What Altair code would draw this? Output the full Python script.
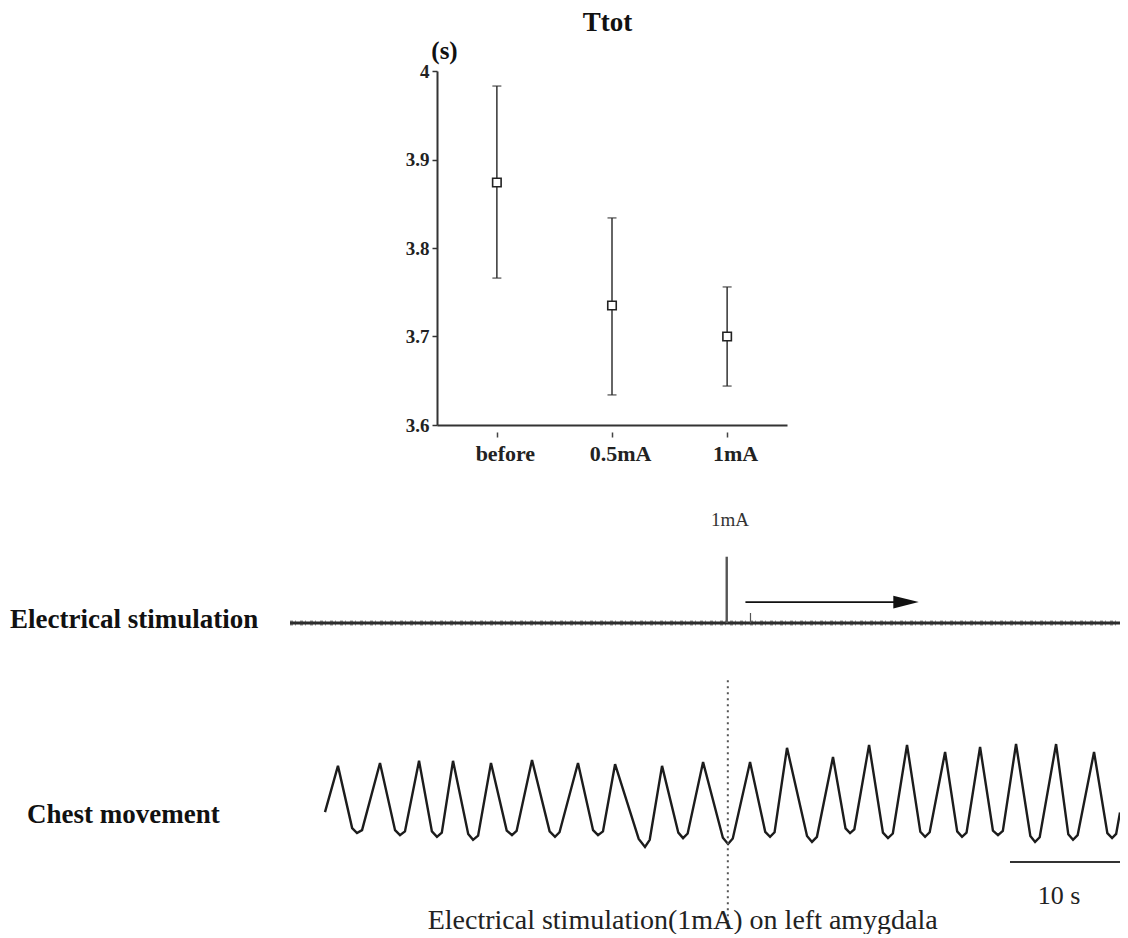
import altair as alt
import pandas as pd

SERIF = "Liberation Serif"

# ---------------- top panel: Ttot (s) ----------------
conditions = ["before", "0.5mA", "1mA"]
ttot_mean = [3.874, 3.735, 3.700]
ttot_upper = [3.983, 3.834, 3.756]
ttot_lower = [3.766, 3.634, 3.644]
ttot_ticks = [3.6, 3.7, 3.8, 3.9, 4.0]

# ---------------- bottom panel: recordings ----------------
# time in seconds, amplitude in arbitrary units
chest_t = [3.18, 4.36,
           5.65, 6.09, 6.55, 8.18,
           9.55, 10.0, 10.45, 11.73,
           12.9, 13.36, 13.8, 14.82,
           16.2, 16.64, 17.1, 18.27,
           19.7, 20.18, 20.6, 22.0,
           23.6, 24.09, 24.5, 26.18,
           27.55, 28.0, 28.45, 29.55,
           31.7, 32.27, 32.7, 33.82,
           35.3, 35.73, 36.15, 37.55,
           39.35, 39.82, 40.25, 41.82,
           43.2, 43.64, 44.05, 45.18,
           47.0, 47.45, 47.9, 49.36,
           50.5, 50.91, 51.3, 52.64,
           53.9, 54.36, 54.8, 56.09,
           57.3, 57.73, 58.15, 59.55,
           60.65, 61.09, 61.5, 62.73,
           63.9, 64.36, 64.8, 66.0,
           67.3, 67.73, 68.15, 69.64,
           70.75, 71.18, 71.6, 73.09,
           74.3, 74.73, 75.1, 75.45]
chest_v = [2.76, 3.86,
           2.38, 2.26, 2.33, 3.93,
           2.33, 2.21, 2.30, 3.98,
           2.30, 2.17, 2.27, 3.98,
           2.24, 2.10, 2.20, 3.93,
           2.32, 2.21, 2.31, 4.00,
           2.30, 2.17, 2.28, 3.93,
           2.33, 2.21, 2.30, 3.90,
           2.12, 1.93, 2.10, 3.86,
           2.27, 2.14, 2.25, 3.95,
           2.15, 2.00, 2.13, 3.95,
           2.29, 2.17, 2.28, 4.29,
           2.19, 2.05, 2.17, 4.07,
           2.37, 2.26, 2.35, 4.36,
           2.27, 2.14, 2.25, 4.36,
           2.29, 2.17, 2.28, 4.19,
           2.30, 2.17, 2.27, 4.31,
           2.32, 2.21, 2.31, 4.38,
           2.19, 2.05, 2.16, 4.38,
           2.23, 2.10, 2.21, 4.19,
           2.26, 2.14, 2.24, 2.75]

stim_t = [0.0, 75.45]
stim_v = [7.26, 7.26]
pulse_t = [39.7, 41.86]
pulse_top = [8.84, 7.50]
pulse_width = [2.4, 1.2]
stim_onset_t = 39.8
arrow_t = [41.4, 56.0]
arrow_v = 7.76
scalebar_t = [65.45, 75.45]   # 10 s
scalebar_v = 1.57
T_RANGE = [0, 75.45]
V_RANGE = [0, 10]

W, H = 1112, 926

cond_df = pd.DataFrame({"cond": conditions, "mean": ttot_mean,
                        "lo": ttot_lower, "hi": ttot_upper})

x_axis = alt.Axis(orient="bottom", offset=-(H - 417), title="Ttot", titleX=599, titleY=-403,
                  titleAlign="center", titleBaseline="middle", titleFont=SERIF,
                  titleFontSize=27, titleFontWeight="bold", titleColor="#111",
                  domainColor="#333", domainWidth=2, tickColor="#444", tickSize=12,
                  tickWidth=1.5, tickDash=[0, 7, 5, 40], labelFont=SERIF, labelFontSize=22,
                  labelFontWeight="bold", labelColor="#222", labelPadding=6, labelOffset=8,
                  labelAngle=0, grid=False)
y_axis = alt.Axis(orient="left", offset=-429, values=ttot_ticks, format=".2~g", grid=False,
                  domainColor="#333", domainWidth=2, tickColor="#333", tickSize=5, tickWidth=1.5,
                  labelFont=SERIF, labelFontWeight="bold", labelFontSize=19, labelColor="#222",
                  labelPadding=3, title="(s)", titleAngle=0, titleX=7, titleY=42,
                  titleAlign="center", titleBaseline="middle", titleFont=SERIF,
                  titleFontSize=25, titleFontWeight="bold", titleColor="#111")


def tx():
    return alt.X("cond:N", sort=conditions,
                 scale=alt.Scale(type="point", range=[429, 779], padding=0.52), axis=x_axis)


def ty(field):
    return alt.Y(f"{field}:Q", scale=alt.Scale(domain=[3.6, 4.0], range=[417, 63], nice=False,
                                                zero=False), axis=y_axis)


base_top = alt.Chart(cond_df)
bars = base_top.mark_rule(color="#333", strokeWidth=1.5).encode(x=tx(), y=ty("lo"), y2="hi:Q")
cap_lo = base_top.mark_tick(color="#333", size=9, thickness=1.5, orient="horizontal").encode(x=tx(), y=ty("lo"))
cap_hi = base_top.mark_tick(color="#333", size=9, thickness=1.5, orient="horizontal").encode(x=tx(), y=ty("hi"))
pts = base_top.mark_square(size=72, filled=True, fill="white", stroke="#222", strokeWidth=1.6,
                           opacity=1).encode(x=tx(), y=ty("mean"))
top = alt.layer(bars, cap_lo, cap_hi, pts)


# ---------------- bottom ----------------
def bx(field):
    return alt.X(f"{field}:Q", scale=alt.Scale(domain=T_RANGE, range=[282, W], nice=False, zero=False),
                 axis=None)


def by(field):
    return alt.Y(f"{field}:Q", scale=alt.Scale(domain=V_RANGE, range=[920, 500], nice=False, zero=False),
                 axis=None)


chest_df = pd.DataFrame({"t": chest_t, "v": chest_v})
stim_df = pd.DataFrame({"t": stim_t, "v": stim_v})
pulse_df = pd.DataFrame({"t": pulse_t, "v0": [stim_v[0]] * 2, "v1": pulse_top, "w": pulse_width})
arrow_df = pd.DataFrame({"t0": [arrow_t[0]], "t1": [arrow_t[1]], "v": [arrow_v]})
onset_df = pd.DataFrame({"t": [stim_onset_t], "v0": [5.9], "v1": [-0.1]})
bar_df = pd.DataFrame({"t0": [scalebar_t[0]], "t1": [scalebar_t[1]], "v": [scalebar_v]})

ann = pd.DataFrame({
    "t": [40.0, 69.9, 35.7, -25.45, -23.9],
    "v": [9.71, 0.76, 0.17, 7.33, 2.69],
    "label": ["1mA", "10 s", "Electrical stimulation(1mA) on left amygdala",
              "Electrical  stimulation", "Chest movement"],
})

stim_line = alt.Chart(stim_df).mark_line(color="#2a2a2a", strokeWidth=3).encode(x=bx("t"), y=by("v"))
stim_fuzz = alt.Chart(stim_df).mark_line(color="#333", strokeWidth=5, strokeDash=[3, 2, 1, 4],
                                         opacity=0.55).encode(x=bx("t"), y=by("v"))
pulses = alt.Chart(pulse_df).mark_rule(color="#555").encode(
    x=bx("t"), y=by("v0"), y2="v1:Q", strokeWidth=alt.StrokeWidth("w:Q", scale=None))
shaft = alt.Chart(arrow_df).mark_rule(color="#111", strokeWidth=1.6).encode(x=bx("t0"), x2="t1:Q", y=by("v"))
head = alt.Chart(arrow_df).mark_point(shape="M -1 -0.5 L 1 0 L -1 0.5 Z", size=650, filled=True,
                                      color="#111", opacity=1).encode(x=bx("t1"), y=by("v"))
chest = alt.Chart(chest_df).mark_line(color="#1c1c1c", strokeWidth=2.4).encode(x=bx("t"), y=by("v"))
onset = alt.Chart(onset_df).mark_rule(color="#555", strokeWidth=2, strokeDash=[2, 4]).encode(
    x=bx("t"), y=by("v0"), y2="v1:Q")
sbar = alt.Chart(bar_df).mark_rule(color="#333", strokeWidth=2).encode(x=bx("t0"), x2="t1:Q", y=by("v"))

t1 = alt.Chart(ann.iloc[[0]]).mark_text(font=SERIF, fontSize=19, color="#333", baseline="middle").encode(
    x=bx("t"), y=by("v"), text="label:N")
t2 = alt.Chart(ann.iloc[[1]]).mark_text(font=SERIF, fontSize=26, color="#222", baseline="middle").encode(
    x=bx("t"), y=by("v"), text="label:N")
t3 = alt.Chart(ann.iloc[[2]]).mark_text(font=SERIF, fontSize=28, color="#222", baseline="middle").encode(
    x=bx("t"), y=by("v"), text="label:N")
t4 = alt.Chart(ann.iloc[[3, 4]]).mark_text(font=SERIF, fontSize=27, fontWeight="bold", color="#111",
                                           baseline="middle", align="left").encode(
    x=bx("t"), y=by("v"), text="label:N")

bottom = alt.layer(stim_line, stim_fuzz, pulses, shaft, head, chest, onset, sbar, t1, t2, t3, t4)

chart = alt.layer(top, bottom).resolve_scale(x="independent", y="independent").properties(
    width=W, height=H, padding=0, autosize=alt.AutoSizeParams(type="none")
).configure_view(stroke=None)

chart.save("out.html", embed_options={"renderer": "svg", "actions": False})
